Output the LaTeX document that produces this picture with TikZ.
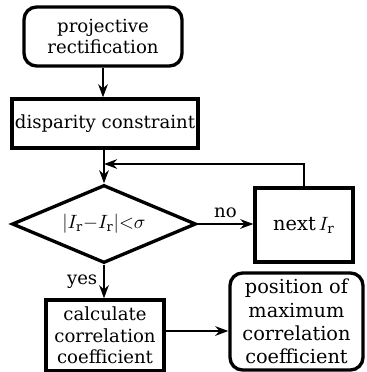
\documentclass[tikz,border=0pt]{standalone}
\usepackage{fontspec}
\setmainfont{DejaVu Serif}
\usetikzlibrary{arrows.meta,shapes.geometric}

\begin{document}
\begin{tikzpicture}[x=0.02cm,y=-0.02cm,
  font=\fontsize{10.3}{12.3}\selectfont,
  box/.style={draw,line width=1.9pt,align=center,inner sep=0pt},
  rbox/.style={box,rounded corners=0.25cm},
  decision/.style={draw,diamond,shape aspect=2.4,line width=1.9pt,inner sep=0pt},
  arr/.style={-{Stealth[length=7.5pt,width=5.5pt]},line width=1pt}]
  \useasboundingbox (0,0) rectangle (366,372);

  \node[rbox,minimum width=3.16cm,minimum height=1.18cm] (proj) at (103,36.5) {projective\\rectification};
  \node[box,minimum width=3.72cm,minimum height=0.98cm] (disp) at (105,123.5) {disparity constraint};
  \node[decision,minimum width=3.68cm,minimum height=1.56cm,font=\fontsize{10.5}{12}\selectfont] (cond) at (104,224) {$|I_{\mathrm{r}}{-}I_{\mathrm{r}}|{<}\sigma$};
  \node[box,minimum width=1.96cm,minimum height=1.48cm,font=\fontsize{11}{13}\selectfont] (next) at (304,225) {next\,$I_{\mathrm{r}}$};
  \node[box,minimum width=2.36cm,minimum height=1.42cm] (calc) at (105,335.5) {calculate\\correlation\\coefficient};
  \node[rbox,minimum width=2.66cm,minimum height=1.94cm,font=\fontsize{11}{13.2}\selectfont] (pos) at (296.5,321.5) {position of\\maximum\\correlation\\coefficient};
  \coordinate (join) at (104,164);

  \draw[arr] (proj) -- (proj |- disp.north);
  \draw[arr] (disp.south -| cond.north) -- (cond.north);
  \draw[arr] (next.north) |- (join);
  \draw[arr] (cond.east) -- node[above] {no} (cond.east -| next.west);
  \draw[arr] (cond.south) -- node[left] {yes} (cond.south |- calc.north);
  \draw[arr] ([yshift=0.09cm]calc.east) -- ([yshift=0.09cm]calc.east -| pos.west);
\end{tikzpicture}
\end{document}
